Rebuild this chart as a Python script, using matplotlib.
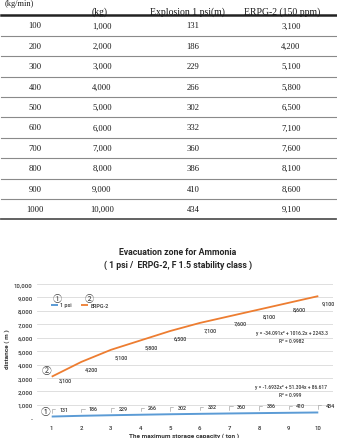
import matplotlib
matplotlib.use("Agg")
import matplotlib.pyplot as plt
from matplotlib.lines import Line2D

# ---------------- data ----------------
release_rate = [100, 200, 300, 400, 500, 600, 700, 800, 900, 1000]
quantity_kg = [1000, 2000, 3000, 4000, 5000, 6000, 7000, 8000, 9000, 10000]
explosion_1psi = [131, 186, 229, 266, 302, 332, 360, 386, 410, 434]
erpg2 = [3100, 4200, 5100, 5800, 6500, 7100, 7600, 8100, 8600, 9100]
capacity_ton = [1, 2, 3, 4, 5, 6, 7, 8, 9, 10]
y_ticks = [0, 1000, 2000, 3000, 4000, 5000, 6000, 7000, 8000, 9000, 10000]
header_top = ["(kg/min)"]
header = ["(kg)", "Explosion 1 psi(m)", "ERPG-2 (150 ppm)"]
eq_erpg = ["y = -34.091x\u00b2 + 1016.2x + 2243.3", "R\u00b2 = 0.9982"]
eq_psi = ["y = -1.6932x\u00b2 + 51.304x + 86.617", "R\u00b2 = 0.999"]

W, H = 337, 439
fig = plt.figure(figsize=(W / 100, H / 100), dpi=100)
fig.patch.set_facecolor("white")


def fx(px):
    return px / W


def fy(py):
    return 1 - py / H


# ---------------- table ----------------
serif = "Liberation Serif"
tcol = "#1a1a1a"
col_x = [35, 102, 193, 291]
fig.text(fx(19), fy(4.2), header_top[0], ha="center", va="center",
         family=serif, size=6, color=tcol)
hdr_x = [100, 187, 282]
for x, s in zip(hdr_x, header):
    fig.text(fx(x), fy(12), s, ha="center", va="center", family=serif,
             size=7, color=tcol)

fig.add_artist(Line2D([fx(1), fx(336)], [fy(15.5), fy(15.5)], lw=1.8,
                      color="#222222", transform=fig.transFigure))

row0, dy = 26.5, 20.4
for i in range(len(release_rate)):
    yc = row0 + dy * i
    vals = [str(release_rate[i]), f"{quantity_kg[i]:,}",
            str(explosion_1psi[i]), f"{erpg2[i]:,}"]
    for x, s in zip(col_x, vals):
        fig.text(fx(x), fy(yc), s, ha="center", va="center", family=serif,
                 size=6.2, color=tcol)
    yl = yc + dy / 2
    last = i == len(release_rate) - 1
    fig.add_artist(Line2D([fx(1), fx(336)], [fy(yl), fy(yl)],
                          lw=1.3 if last else 0.8,
                          color="#555555" if last else "#8a8a8a",
                          transform=fig.transFigure))

# ---------------- chart ----------------
sans = "Roboto"
blue = "#5B9BD5"
orange = "#ED7D31"
lab = "#333333"
wt = "medium"

x0p, x1p = 36.9, 333.1
y0p, y1p = 419.3, 285.0
ax = fig.add_axes([fx(x0p), fy(y0p), (x1p - x0p) / W, (y0p - y1p) / H])
ax.set_xlim(0.5, 10.5)
ax.set_ylim(0, 10000)
for sp in ax.spines.values():
    sp.set_visible(False)
ax.set_yticks(y_ticks)
ax.set_yticklabels(["-" if v == 0 else f"{v:,}" for v in y_ticks])
ax.set_xticks(capacity_ton)
ax.set_xticklabels([str(v) for v in capacity_ton])
ax.tick_params(length=0, labelsize=4.3, labelcolor=lab, pad=3)
for t in ax.get_xticklabels() + ax.get_yticklabels():
    t.set_family(sans)
    t.set_fontweight(wt)
ax.tick_params(axis="x", pad=5)
ax.grid(axis="y", color="#D9D9D9", lw=0.6)
ax.set_axisbelow(True)

ax.plot(capacity_ton, explosion_1psi, color=blue, lw=1.4, label="1 psi",
        solid_capstyle="butt")
ax.plot(capacity_ton, erpg2, color=orange, lw=1.3, label="ERPG-2",
        solid_capstyle="butt")

# data labels ERPG-2
for i, (x, y) in enumerate(zip(capacity_ton, erpg2)):
    off = (10, -2.5) if i == 0 else (7.5, -4.8)
    ax.annotate(f"{y:,}", (x, y), xytext=off, textcoords="offset points",
                ha="center", va="center", size=3.9, color=lab, family=sans,
                fontweight=wt)

# data labels 1 psi with leader lines
for x, y in zip(capacity_ton, explosion_1psi):
    ax.annotate(str(y), (x, y), xytext=(5.5, 5.2), textcoords="offset points",
                ha="left", va="center", size=3.9, color=lab, family=sans,
                fontweight=wt,
                arrowprops=dict(arrowstyle="-", color="#A6A6A6", lw=0.5,
                                shrinkA=1.2, shrinkB=2.5,
                                connectionstyle="angle,angleA=0,angleB=90,rad=0"))

# trendline equations
ax.text(9.12, 6404, eq_erpg[0], ha="center", va="center", size=3.5,
        color=lab, family=sans, fontweight=wt)
ax.text(9.10, 5778, eq_erpg[1], ha="center", va="center", size=3.5,
        color=lab, family=sans, fontweight=wt)
ax.text(9.07, 2353, eq_psi[0], ha="center", va="center", size=3.5,
        color=lab, family=sans, fontweight=wt)
ax.text(9.05, 1809, eq_psi[1], ha="center", va="center", size=3.5,
        color=lab, family=sans, fontweight=wt)

# legend
leg = ax.legend(loc="center left", bbox_to_anchor=((51 - x0p) / (x1p - x0p),
                (y0p - 306) / (y0p - y1p)),
                ncol=2, frameon=False, handlelength=1.3, handletextpad=0.4,
                columnspacing=1.7, borderaxespad=0, borderpad=0,
                prop=dict(family=sans, size=3.9, weight=wt))
for t in leg.get_texts():
    t.set_color(lab)

circ = ["Noto Sans CJK JP", "DejaVu Sans"]
fig.text(fx(57), fy(300), "\u2460", ha="center", va="center", family=circ,
         size=6.5, color="#404040")
fig.text(fx(89), fy(300), "\u2461", ha="center", va="center", family=circ,
         size=6.5, color="#404040")
fig.text(fx(47), fy(371.5), "\u2461", ha="center", va="center", family=circ,
         size=7, color="#404040")
fig.text(fx(46), fy(412), "\u2460", ha="center", va="center", family=circ,
         size=7, color="#404040")

# titles & axis labels
fig.text(fx(178), fy(253), "Evacuation zone for Ammonia", ha="center",
         va="center", family=sans, size=6.3, color="#262626", fontweight="bold")
fig.text(fx(178), fy(265.5), "( 1 psi /  ERPG-2, F 1.5 stability class )",
         ha="center", va="center", family=sans, size=6.3, color="#262626",
         fontweight="bold")
fig.text(fx(7), fy(349), "distance ( m )", ha="center", va="center",
         rotation=90, family=sans, size=4.6, color=lab, fontweight="bold")
fig.text(fx(184), fy(436.2), "The maximum storage capacity ( ton )",
         ha="center", va="center", family=sans, size=4.6, color=lab,
         fontweight="bold")

fig.savefig("out.png", dpi=100, facecolor="white")
